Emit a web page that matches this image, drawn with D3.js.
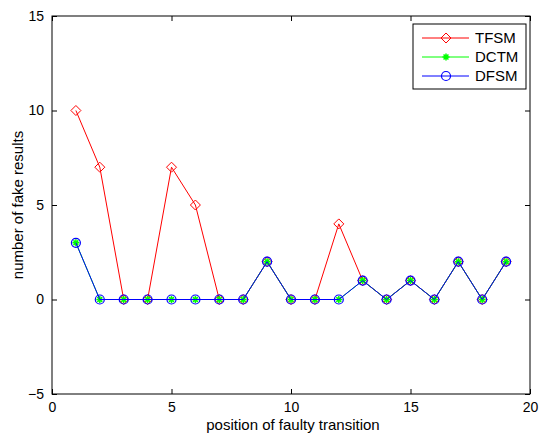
<!DOCTYPE html>
<html>
<head>
<meta charset="utf-8">
<script src="https://cdn.jsdelivr.net/npm/d3@7"></script>
<style>
  body { margin: 0; background: #fff; }
  text { font-family: "Liberation Sans", Arial, sans-serif; }
</style>
</head>
<body>
<div id="container"></div>
<script>
'use strict'

// data
const positions = [1,2,3,4,5,6,7,8,9,10,11,12,13,14,15,16,17,18,19];
const tfsm = [10,7,0,0,7,5,0,0,2,0,0,4,1,0,1,0,2,0,2];
const dctm = [3,0,0,0,0,0,0,0,2,0,0,0,1,0,1,0,2,0,2];
const dfsm = [3,0,0,0,0,0,0,0,2,0,0,0,1,0,1,0,2,0,2];
const xTicks = [0,5,10,15,20];
const yTicks = [-5,0,5,10,15];
const seriesNames = ['TFSM','DCTM','DFSM'];

const w = 539, h = 434;
const padL = 52, padR = 530, padT = 16, padB = 394;

const xScale = d3.scaleLinear().domain([0,20]).range([padL, padR]);
const yScale = d3.scaleLinear().domain([-5,15]).range([padB, padT]);

const svg = d3.select("#container").append("svg")
  .attr("width", w).attr("height", h);

// axes: ticks pointing inward, on all four sides (matlab box)
const tickLen = 5;
const xAxisB = d3.axisBottom(xScale).tickValues(xTicks).tickSizeInner(-tickLen).tickSizeOuter(0).tickPadding(8);
const xAxisT = d3.axisTop(xScale).tickValues(xTicks).tickSizeInner(-tickLen).tickSizeOuter(0).tickFormat("");
const yAxisL = d3.axisLeft(yScale).tickValues(yTicks).tickSizeInner(-tickLen).tickSizeOuter(0).tickPadding(8);
const yAxisR = d3.axisRight(yScale).tickValues(yTicks).tickSizeInner(-tickLen).tickSizeOuter(0).tickFormat("");

function styleAxis(g) {
  g.select(".domain").remove();
  g.selectAll(".tick line").attr("stroke", "#000");
  g.selectAll(".tick text").attr("fill", "#000").style("font-size", "14px");
}

svg.append("g").attr("transform", "translate(0," + padB + ")").call(xAxisB).call(styleAxis);
svg.append("g").attr("transform", "translate(0," + padT + ")").call(xAxisT).call(styleAxis);
svg.append("g").attr("transform", "translate(" + padL + ",0)").call(yAxisL).call(styleAxis);
svg.append("g").attr("transform", "translate(" + padR + ",0)").call(yAxisR).call(styleAxis);

// the box
svg.append("rect")
  .attr("x", padL).attr("y", padT)
  .attr("width", padR - padL).attr("height", padB - padT)
  .attr("fill", "none").attr("stroke", "#000").attr("stroke-width", 1);

// markers
function diamond(g, x, y, col) {
  g.append("path")
    .attr("d", "M" + x + "," + (y - 5) + "L" + (x + 5) + "," + y + "L" + x + "," + (y + 5) + "L" + (x - 5) + "," + y + "Z")
    .attr("fill", "none").attr("stroke", col).attr("stroke-width", 1);
}
function star(g, x, y, col) {
  const r = 3.5;
  g.append("path")
    .attr("d", "M" + (x - r) + "," + y + "L" + (x + r) + "," + y +
               "M" + x + "," + (y - r) + "L" + x + "," + (y + r) +
               "M" + (x - r * 0.7) + "," + (y - r * 0.7) + "L" + (x + r * 0.7) + "," + (y + r * 0.7) +
               "M" + (x - r * 0.7) + "," + (y + r * 0.7) + "L" + (x + r * 0.7) + "," + (y - r * 0.7))
    .attr("stroke", col).attr("stroke-width", 1.5);
}
function circle(g, x, y, col) {
  g.append("circle").attr("cx", x).attr("cy", y).attr("r", 4.5)
    .attr("fill", "none").attr("stroke", col).attr("stroke-width", 1.2);
}

const series = [
  { name: 'TFSM', vals: tfsm, col: "#ff0000", mark: diamond },
  { name: 'DCTM', vals: dctm, col: "#00ff00", mark: star },
  { name: 'DFSM', vals: dfsm, col: "#0000ff", mark: circle }
];

const line = d3.line().x(d => xScale(d[0])).y(d => yScale(d[1]));

series.forEach(function(s) {
  const pts = positions.map((p, i) => [p, s.vals[i]]);
  const g = svg.append("g");
  g.append("path").attr("d", line(pts))
    .attr("fill", "none").attr("stroke", s.col).attr("stroke-width", 1);
  pts.forEach(p => s.mark(g, xScale(p[0]), yScale(p[1]), s.col));
});

// legend
const lg = svg.append("g");
lg.append("rect").attr("x", 413).attr("y", 24).attr("width", 113).attr("height", 65)
  .attr("fill", "#fff").attr("stroke", "#000");
series.forEach(function(s, i) {
  const y = 38 + i * 19;
  lg.append("line").attr("x1", 422).attr("x2", 469).attr("y1", y).attr("y2", y)
    .attr("stroke", s.col).attr("stroke-width", 1);
  s.mark(lg, 446, y, s.col);
  lg.append("text").attr("x", 475).attr("y", y + 5).text(seriesNames[i])
    .style("font-size", "15px").attr("fill", "#000");
});

// axis titles
svg.append("text").attr("x", (padL + padR) / 2 + 2).attr("y", 430)
  .attr("text-anchor", "middle").style("font-size", "15px")
  .text("position of faulty transition");

svg.append("text").attr("transform", "translate(23," + (padT + padB) / 2 + ") rotate(-90)")
  .attr("text-anchor", "middle").style("font-size", "15px")
  .text("number of fake results");
</script>
</body>
</html>
